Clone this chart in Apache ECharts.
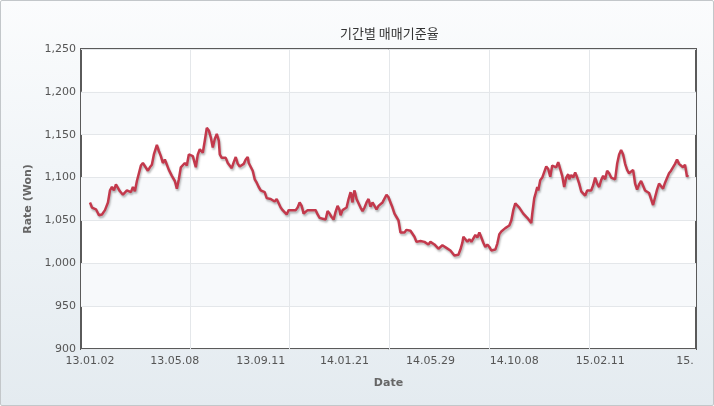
<!DOCTYPE html>
<html>
<head>
<meta charset="utf-8">
<script src="https://cdn.jsdelivr.net/npm/echarts@6/dist/echarts.min.js"></script>
<style>
html,body{margin:0;padding:0;background:#fff;}
#wrap{position:absolute;left:0;top:0;width:712px;height:404px;border:1px solid #c3c7ca;border-radius:2px;
background:linear-gradient(to bottom,#fbfcfd 0%,#f1f5f8 40%,#e4ebf0 100%);}
#chart{width:712px;height:404px;}
</style>
</head>
<body>
<div id="wrap"><div id="chart"></div></div>
<script>
// Trading-day index (from 13.01.02) and rate (Won)
const days = [0,2,6,9,12,15,18,20,22,24,26,28,30,33,35,37,39,41,43,45,47,49,51,53,55,58,60,62,64,67,69,71,73,75,77,79,82,85,87,89,91,93,95,97,99,101,103,106,108,110,113,115,117,119,
121,123,125,127,129,130,132,134,136,138,140,142,144,146,148,150,152,154,156,158,159,161,163,165,167,169,171,173,175,177,179,181,183,185,187,189,191,193,195,197,199,201,203,206,208,210,212,214,216,218,220,222,224,226,228,230,233,
236,238,240,242,244,246,248,250,251,253,255,257,259,261,263,264,265,267,269,271,273,275,277,279,281,283,285,287,289,291,293,295,297,299,301,303,305,307,309,311,313,315,317,319,321,323,325,327,329,331,333,335,337,339,341,343,345,347,349,351,353,355,357,359,
361,363,365,367,369,371,373,374,376,378,380,382,384,386,388,390,392,394,396,398,400,402,404,406,408,410,412,414,416,418,420,422,424,426,428,430,432,434,436,438,440,442,443,445,446,448,449,451,453,455,457,459,461,463,465,467,469,471,473,475,477,479,
480,482,484,486,488,490,492,494,496,498,500,502,504,506,508,510,512,514,516,518,520,522,524,526,528,530,532,534,536,538,540,542,544,546,548,550,552,554,556,558,560,562,564,566,568,570,572,574,576,578,580,582,584,586,588,590,592,594,596,598,599];
const rates = [1071,1065,1063,1056,1057,1062,1071,1085,1089,1085,1092,1093,1084,1080,1078,1085,1087,1083,1089,1084,1096,1096,1114,1117,1116,1108,1112,1115,1127,1138,1131,1125,1117,1121,1119,1109,1102,1096,1087,1098,1112,1111,1117,1114,1127,1129,1125,1112,1127,1133,1129,1143,1158,1155,
1147,1135,1145,1151,1143,1127,1123,1121,1123,1117,1115,1111,1118,1124,1116,1113,1115,1116,1121,1124,1117,1116,1108,1098,1094,1089,1085,1084,1083,1076,1075,1075,1074,1072,1075,1070,1065,1062,1061,1057,1062,1061,1062,1062,1065,1071,1067,1058,1056,1062,1060,1062,1061,1062,1057,1053,1052,
1051,1061,1058,1054,1051,1060,1067,1062,1056,1062,1063,1065,1075,1083,1071,1081,1085,1075,1073,1065,1061,1065,1071,1075,1066,1071,1069,1063,1067,1066,1071,1069,1080,1077,1071,1065,1058,1054,1050,1036,1038,1036,1039,1037,1038,1036,1031,1025,1024,1026,1024,1025,1024,1022,1025,1023,1022,1020,1017,1018,1021,1022,1018,1016,
1015,1013,1009,1008,1010,1016,1024,1031,1029,1025,1028,1025,1027,1033,1030,1036,1030,1024,1019,1022,1019,1015,1014,1016,1023,1034,1037,1035,1041,1040,1044,1050,1062,1070,1071,1065,1063,1058,1060,1053,1054,1047,1058,1076,1080,1089,1085,1097,1100,1100,1113,1110,1101,1114,1115,1112,1118,1110,1102,1089,1100,1104,
1098,1103,1100,1106,1100,1093,1084,1082,1079,1085,1083,1085,1091,1100,1093,1089,1097,1102,1098,1108,1105,1100,1100,1098,1116,1127,1132,1127,1116,1109,1105,1104,1109,1093,1086,1092,1096,1096,1085,1083,1082,1075,1068,1077,1086,1093,1092,1087,1094,1093,1105,1108,1109,1116,1121,1116,1118,1112,1115,1101,1103];
// X-axis tick labels (dates) and the trading-day index they sit on
const dateLabels = ['13.01.02','13.05.08','13.09.11','14.01.21','14.05.29','14.10.08','15.02.11','15.'];
const dateLabelDays = [0,85,171,255,341,425,511,596];
const gridDays = [100,200,300,400,500];

const chart = echarts.init(document.getElementById('chart'), null, {renderer:'canvas'});
const fontFam = '"DejaVu Sans", Verdana, sans-serif';
chart.setOption({
  animation:false,
  backgroundColor:'transparent',
  title:{
    text:'기간별 매매기준율',
    left:334, top:21,
    textStyle:{fontFamily:'"Noto Sans CJK KR", sans-serif', fontSize:13, fontWeight:'normal', color:'#333'}
  },
  grid:{left:80, right:17, top:48, bottom:56, show:true, backgroundColor:'#fff', borderColor:'#5a5a5a', borderWidth:2},
  xAxis:{
    type:'value', min:-9, max:607,
    name:'Date', nameLocation:'middle', nameGap:29,
    nameTextStyle:{fontFamily:fontFam, fontSize:11, fontWeight:'bold', color:'#666'},
    axisLine:{show:false},
    axisTick:{show:false, customValues:gridDays},
    axisLabel:{
      customValues:dateLabelDays, margin:7,
      fontFamily:fontFam, fontSize:11, color:'#555',
      formatter:function(v){ const i = dateLabelDays.indexOf(v); return i>=0 ? dateLabels[i] : ''; }
    },
    splitLine:{show:true, lineStyle:{color:'#e4e7ea', width:1}}
  },
  yAxis:{
    type:'value', min:900, max:1250, interval:50,
    name:'Rate (Won)', nameLocation:'middle', nameGap:40,
    nameTextStyle:{fontFamily:fontFam, fontSize:11, fontWeight:'bold', color:'#666'},
    axisLine:{show:false}, axisTick:{show:false},
    axisLabel:{margin:5, fontFamily:fontFam, fontSize:11, color:'#555',
      formatter:function(v){ return v.toLocaleString('en-US'); }},
    splitLine:{show:true, lineStyle:{color:'#e4e7ea', width:1}},
    splitArea:{show:true, areaStyle:{color:['rgba(255,255,255,0)','#f7f9fb']}}
  },
  series:[{
    type:'line',
    data:days.map((d,i)=>[d, rates[i]]),
    showSymbol:false,
    lineStyle:{color:'#c3394c', width:2.5, shadowColor:'rgba(0,0,0,0.28)', shadowBlur:2, shadowOffsetX:1, shadowOffsetY:2},
    itemStyle:{color:'#c3394c'}
  }]
});
</script>
</body>
</html>
